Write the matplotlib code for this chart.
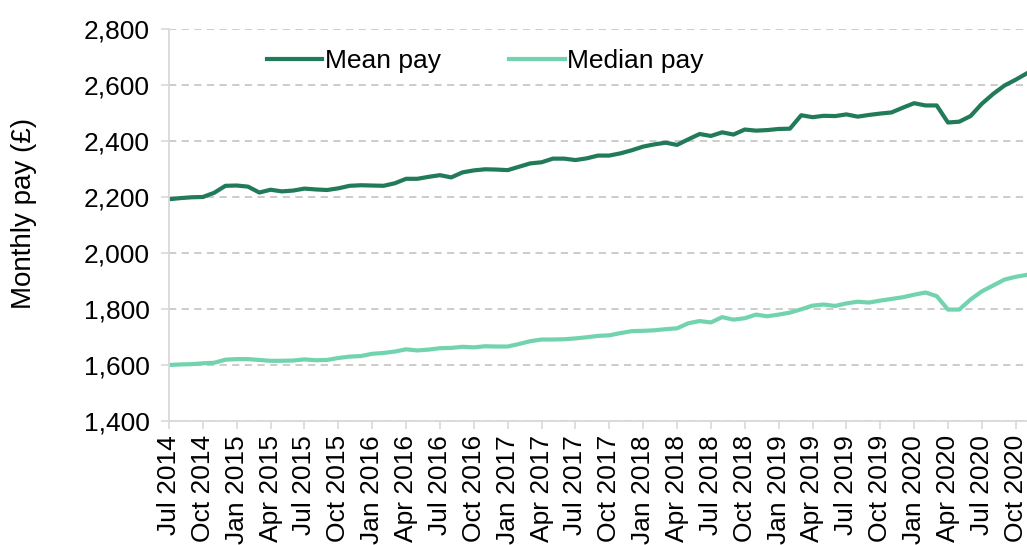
import matplotlib
matplotlib.use("Agg")
import matplotlib.pyplot as plt

plt.rcParams['font.family'] = ['Liberation Sans', 'DejaVu Sans']

months = ["Jan", "Feb", "Mar", "Apr", "May", "Jun", "Jul", "Aug", "Sep", "Oct", "Nov", "Dec"]
# Monthly dates Jul 2014 .. Nov 2020
dates = []
y, m = 2014, 6
while (y, m) <= (2020, 10):
    dates.append(f"{months[m]} {y}")
    m += 1
    if m == 12:
        m = 0
        y += 1

mean_pay = [2192, 2196, 2199, 2200, 2215, 2240, 2241, 2237, 2216, 2226,
            2220, 2223, 2230, 2227, 2225, 2231, 2240, 2242, 2241, 2240,
            2249, 2265, 2265, 2272, 2278, 2270, 2288, 2295, 2299, 2298,
            2296, 2308, 2320, 2324, 2337, 2337, 2332, 2338, 2348, 2348,
            2356, 2367, 2380, 2388, 2394, 2386, 2406, 2425, 2418, 2431,
            2423, 2441, 2437, 2439, 2443, 2444, 2492, 2485, 2490, 2489,
            2495, 2487, 2493, 2498, 2502, 2519, 2535, 2527, 2527, 2466,
            2469, 2489, 2533, 2568, 2598, 2619, 2642]

median_pay = [1600, 1602, 1603, 1606, 1608, 1619, 1621, 1621, 1618, 1615,
              1615, 1616, 1620, 1617, 1618, 1625, 1630, 1632, 1640, 1643,
              1648, 1656, 1652, 1655, 1660, 1661, 1665, 1663, 1667, 1666,
              1666, 1675, 1685, 1691, 1691, 1692, 1695, 1699, 1704, 1706,
              1714, 1721, 1722, 1724, 1728, 1731, 1749, 1757, 1752, 1771,
              1762, 1767, 1780, 1774, 1780, 1787, 1799, 1812, 1816, 1811,
              1820, 1826, 1823, 1830, 1836, 1842, 1851, 1859, 1846, 1798,
              1798, 1834, 1863, 1884, 1905, 1915, 1922]

y_ticks = [1400, 1600, 1800, 2000, 2200, 2400, 2600, 2800]

fig = plt.figure(figsize=(10.27, 5.45), dpi=100)
ax = fig.add_axes([169/1027, 1 - 421/545, 1 - 169/1027, (421 - 29)/545])

x = list(range(len(dates)))
ax.plot(x, mean_pay, color="#217A58", lw=3.0, label="Mean pay", solid_joinstyle="round")
ax.plot(x, median_pay, color="#72D4AF", lw=3.0, label="Median pay", solid_joinstyle="round")

ax.set_xlim(0, len(dates) - 1)
ax.set_ylim(1400, 2800)
ax.set_yticks(y_ticks)
ax.set_yticklabels([f"{v:,}" for v in y_ticks])
ax.set_xticks(x[::3])
ax.set_xticklabels(dates[::3], rotation=90)

ax.grid(axis="y", color="#C8C8C8", linestyle=(0, (4, 3)), lw=1.3)
ax.set_axisbelow(True)
for s in ["top", "right"]:
    ax.spines[s].set_visible(False)
for s in ["left", "bottom"]:
    ax.spines[s].set_color("#D9D9D9")
    ax.spines[s].set_linewidth(1.3)
ax.tick_params(axis="both", colors="#D9D9D9", labelcolor="black", labelsize=19, length=6, width=1.2)
ax.tick_params(axis="y", pad=8)
ax.tick_params(axis="x", pad=4)

ax.set_ylabel("Monthly pay (£)", fontsize=20)
ax.yaxis.set_label_coords(-0.154, 0.53)

leg = ax.legend(loc="upper left", bbox_to_anchor=(0.086, 1.01), ncol=2, frameon=False,
                fontsize=19, handlelength=2.1, handletextpad=0.1, columnspacing=2.6)

fig.savefig("out.png", dpi=100)
